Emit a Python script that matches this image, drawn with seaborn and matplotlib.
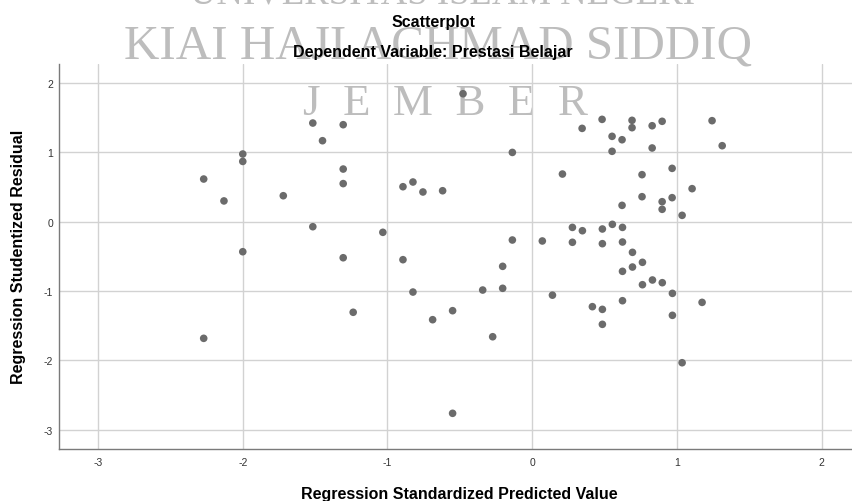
import matplotlib
matplotlib.use("Agg")
import matplotlib.pyplot as plt
import seaborn as sns
import pandas as pd

# Regression Standardized Predicted Value (x) and Regression Studentized Residual (y)
pred = [-2.27, -2.13, -2.00, -2.00, -2.00, -2.27, -1.72, -1.516, -1.449, -1.306,
        -1.306, -1.306, -1.516, -1.306, -1.237, -1.032, -0.893, -0.824, -0.755, -0.619,
        -0.893, -0.824, -0.688, -0.550, -0.550, -0.478, -0.342, -0.273, -0.204, -0.204,
        -0.137, -0.137, 0.070, 0.140, 0.209,
        0.345, 0.483, 0.690, 0.690, 0.829, 0.898, 1.243, 1.313, 0.552, 0.621,
        0.552, 0.829, 0.759, 0.967, 1.105, 0.759, 0.898, 0.967, 0.898, 0.621,
        1.036,
        0.278, 0.347, 0.485, 0.554, 0.624, 0.278, 0.485, 0.624, 0.693, 0.762,
        0.693, 0.624, 0.762, 0.831, 0.899, 0.969, 0.624, 0.416, 0.485, 0.485,
        0.969, 1.174, 1.036]
resid = [0.616, 0.300, 0.977, 0.870, -0.433, -1.683, 0.375, 1.424, 1.169, 1.400,
         0.760, 0.550, -0.072, -0.520, -1.307, -0.153, 0.505, 0.573, 0.429, 0.447,
         -0.548, -1.015, -1.414, -1.284, -2.765, 1.847, -0.986, -1.660, -0.644, -0.961,
         1.000, -0.264, -0.278, -1.060, 0.688,
         1.347, 1.477, 1.463, 1.357, 1.385, 1.449, 1.458, 1.097, 1.232, 1.183,
         1.016, 1.064, 0.679, 0.770, 0.477, 0.361, 0.289, 0.347, 0.179, 0.236,
         0.092,
         -0.082, -0.130, -0.105, -0.038, -0.082, -0.297, -0.317, -0.293, -0.442, -0.586,
         -0.654, -0.716, -0.909, -0.841, -0.880, -1.034, -1.140, -1.226, -1.265, -1.481,
         -1.351, -1.164, -2.035]

x_ticks = [-3, -2, -1, 0, 1, 2]
y_ticks = [-3, -2, -1, 0, 1, 2]

title_main = "Scatterplot"
title_sub = "Dependent Variable: Prestasi Belajar"
x_label = "Regression Standardized Predicted Value"
y_label = "Regression Studentized Residual"

df = pd.DataFrame({"pred": pred, "resid": resid})

sns.set_style("white")
plt.rcParams["font.family"] = ["Liberation Sans", "DejaVu Sans"]
plt.rcParams["axes.unicode_minus"] = False

W, H = 852, 502
fig = plt.figure(figsize=(W / 100, H / 100), dpi=100)
fig.patch.set_facecolor("white")

ax = fig.add_axes([58.7 / W, (H - 450) / H, 1 - 58.7 / W, (450 - 65) / H])
ax.patch.set_alpha(0)

sns.scatterplot(data=df, x="pred", y="resid", ax=ax, color="#6b6b6b",
                s=30, edgecolor="none", linewidth=0, zorder=3)

ax.set_xlim(-3.272, 2.21)
ax.set_ylim(-3.28, 2.276)
ax.set_xticks(x_ticks)
ax.set_yticks(y_ticks)
ax.set_xticklabels([str(t) for t in x_ticks])
ax.set_yticklabels([str(t) for t in y_ticks])
ax.grid(True, color="#d2d2d2", linewidth=1)
ax.set_axisbelow(True)
for s in ["top", "right"]:
    ax.spines[s].set_visible(False)
for s in ["left", "bottom"]:
    ax.spines[s].set_color("#7a7a7a")
    ax.spines[s].set_linewidth(1)
ax.tick_params(axis="both", length=0, labelsize=7.5, colors="#333333")
ax.tick_params(axis="x", pad=6)
ax.tick_params(axis="y", pad=4)
ax.set_xlabel("")
ax.set_ylabel("")

# watermark
wm = dict(family=["Liberation Serif", "DejaVu Serif"], color="#bdbdbd", zorder=-1)
fig.text(442 / W, 1 - 4 / H, "UNIVERSITAS ISLAM NEGERI", fontsize=26.5,
         ha="center", va="baseline", **wm)
fig.text(438 / W, 1 - 58 / H, "KIAI HAJI ACHMAD SIDDIQ", fontsize=35.3,
         ha="center", va="baseline", **wm)
fig.text(303 / W, 1 - 115 / H, "J  E  M  B  E  R", fontsize=32.4,
         ha="left", va="baseline", **wm)

# titles
fig.text(433 / W, 1 - 27 / H, title_main, fontsize=11.5, fontweight="bold",
         ha="center", va="baseline", color="black")
fig.text(433 / W, 1 - 57 / H, title_sub, fontsize=11.5, fontweight="bold",
         ha="center", va="baseline", color="black")

# axis labels
fig.text(459.5 / W, 1 - 499 / H, x_label, fontsize=11.5, fontweight="bold",
         ha="center", va="baseline", color="black")
fig.text(19 / W, 1 - 256.5 / H, y_label, fontsize=11.5, fontweight="bold",
         ha="center", va="center", rotation=90, color="black")

fig.savefig("out.png", dpi=100, facecolor="white")
